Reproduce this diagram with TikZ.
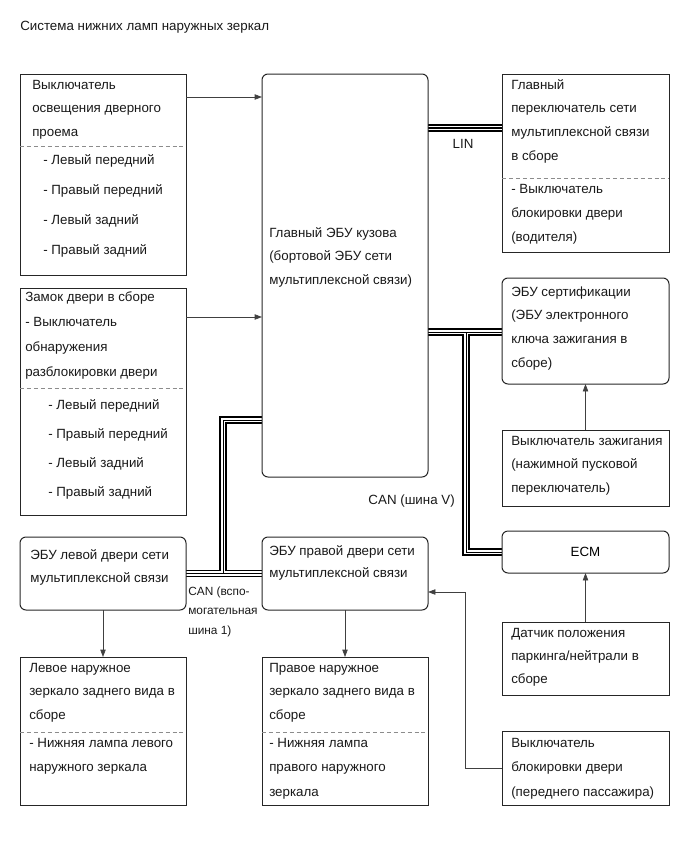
\documentclass[tikz,border=0pt]{standalone}
\usepackage{fontspec}
\setmainfont{Liberation Sans}
\usetikzlibrary{calc,arrows.meta}
\pgfdeclarelayer{bg}
\pgfsetlayers{bg,main}
\newcommand\tlines[5]{%
  \foreach \q [count=\i] in {#5} {\node[txt] (#1-\i) at (#2, {#3+4+(\i-1)*#4}) {\q};}}
\newcommand\slines[5]{%
  \foreach \q [count=\i] in {#5} {\node[txt, font=\fontsize{8.9}{10}\selectfont] (#1-\i) at (#2, {#3+4+(\i-1)*#4}) {\q};}}
\begin{document}
\begin{tikzpicture}[x=0.75pt,y=-0.75pt,
  box/.style={draw=black!85, line width=0.75pt, inner sep=0pt, outer sep=0pt, anchor=north west, minimum width=124.5pt},
  rbox/.style={box, rounded corners=4.5pt},
  txt/.style={anchor=base west, inner sep=0pt, font=\fontsize{10}{12}\selectfont, text=black!90},
  arr/.style={draw=black!75, line width=0.5pt, -{Triangle[length=5.5pt,width=4pt]}},
  sepline/.style={draw=black!45, line width=0.6pt, dash pattern=on 3pt off 2.2pt}
]
\useasboundingbox (0,0) rectangle (689,853);

\node[txt] (title) at (20,31) {Система нижних ламп наружных зеркал};

% boxes
\node[box, minimum height=150.75pt] (A) at (20,74) {};
\node[box, minimum height=170.25pt] (B) at (20,288) {};
\node[rbox, minimum height=302.25pt] (M) at (262,74) {};
\node[box, minimum width=125.25pt, minimum height=133.5pt] (C) at (502,74) {};
\node[rbox, minimum width=125.25pt, minimum height=79.5pt] (D) at (502,278) {};
\node[box, minimum width=125.25pt, minimum height=57pt] (E) at (502,430) {};
\node[rbox, minimum width=125.25pt, minimum height=31.5pt, font=\fontsize{10}{12}\selectfont] (ECM) at (502,531) {ECM};
\node[box, minimum width=125.25pt, minimum height=54.75pt] (F) at (502,622) {};
\node[box, minimum width=125.25pt, minimum height=55.5pt] (G) at (502,731) {};
\node[rbox, minimum height=54.75pt] (I) at (20,537) {};
\node[rbox, minimum height=54.75pt] (H) at (262,537) {};
\node[box, minimum height=111pt] (J) at (20,657) {};
\node[box, minimum height=111pt] (K) at (262,657) {};

% dashed separators
\draw[sepline] ($(A.north west)+(0,72)$) -- ($(A.north east)+(0,72)$);
\draw[sepline] ($(B.north west)+(0,100)$) -- ($(B.north east)+(0,100)$);
\draw[sepline] ($(C.north west)+(0,104)$) -- ($(C.north east)+(0,104)$);
\draw[sepline] ($(J.north west)+(0,75)$) -- ($(J.north east)+(0,75)$);
\draw[sepline] ($(K.north west)+(0,75)$) -- ($(K.north east)+(0,75)$);

% texts
\tlines{A}{32}{85}{23.5}{{Выключатель},{освещения дверного},{проема}}
\tlines{Ai}{43}{160}{30}{{- Левый передний},{- Правый передний},{- Левый задний},{- Правый задний}}
\tlines{B}{25}{297}{25.3}{{Замок двери в сборе},{- Выключатель},{обнаружения},{разблокировки двери}}
\tlines{Bi}{48}{405}{29.3}{{- Левый передний},{- Правый передний},{- Левый задний},{- Правый задний}}
\tlines{M}{269}{233}{23.5}{{Главный ЭБУ кузова},{(бортовой ЭБУ сети},{мультиплексной связи)}}
\tlines{C}{511}{85}{23.7}{{Главный},{переключатель сети},{мультиплексной связи},{в сборе}}
\tlines{Ci}{511}{189}{24}{{- Выключатель},{блокировки двери},{(водителя)}}
\tlines{D}{511}{292}{23.7}{{ЭБУ сертификации},{(ЭБУ электронного},{ключа зажигания в},{сборе)}}
\tlines{E}{511}{441}{23.5}{{Выключатель зажигания},{(нажимной пусковой},{переключатель)}}
\tlines{F}{511}{633}{23}{{Датчик положения},{паркинга/нейтрали в},{сборе}}
\tlines{G}{511}{743}{24.5}{{Выключатель},{блокировки двери},{(переднего пассажира)}}
\tlines{I}{30}{555}{23}{{ЭБУ левой двери сети},{мультиплексной связи}}
\tlines{H}{269}{551}{22.5}{{ЭБУ правой двери сети},{мультиплексной связи}}
\tlines{J}{29}{668}{23.5}{{Левое наружное},{зеркало заднего вида в},{сборе}}
\tlines{Ji}{29}{743}{24}{{- Нижняя лампа левого},{наружного зеркала}}
\tlines{K}{269}{668}{23.5}{{Правое наружное},{зеркало заднего вида в},{сборе}}
\tlines{Ki}{269}{743}{24.5}{{- Нижняя лампа},{правого наружного},{зеркала}}

% bus labels
\node[txt, anchor=center] (lin) at (463,144) {LIN};
\node[txt, anchor=base east] (canv) at (455,504) {CAN (шина V)};
\slines{canA}{188}{591}{19.5}{{CAN (вспо-},{могательная},{шина 1)}}

% signal arrows
\draw[arr] ($(A.north east)+(0,23)$) -- ($(M.north west)+(0,23)$);
\draw[arr] ($(B.north east)+(0,29)$) -- ($(M.north west)+(0,243)$);
\draw[arr] (E.north) -- (D.south);
\draw[arr] (F.north) -- (ECM.south);
\draw[arr] (I.south) -- (J.north);
\draw[arr] (H.south) -- (K.north);
\draw[arr] (G.west) -- ++(-37,0) |- ($(H.north east)+(0,55)$);

% buses
\begin{pgfonlayer}{bg}
\foreach \w/\c in {5.4pt/black, 3.2pt/white}{
  \draw[line width=\w, draw=\c]
    ($(M.north east)+(0,54)$) -- ($(C.north west)+(0,54)$)
    ($(M.north east)+(0,258)$) -- ($(D.north west)+(0,54)$)
    ($(M.north east)+(38,258)$) |- (ECM.west)
    (I.east) -- (H.west)
    ($(I.east)+(37,0)$) |- ($(M.north west)+(0,346)$);
}
\draw[line width=1.5pt, draw=black]
    ($(M.north east)+(0,54)$) -- ($(C.north west)+(0,54)$);
\draw[line width=0.6pt, draw=black]
    ($(M.north east)+(0,258)$) -- ($(D.north west)+(0,54)$)
    ($(M.north east)+(38,258)$) |- (ECM.west)
    (I.east) -- (H.west)
    ($(I.east)+(37,0)$) |- ($(M.north west)+(0,346)$);
\end{pgfonlayer}
\end{tikzpicture}
\end{document}
